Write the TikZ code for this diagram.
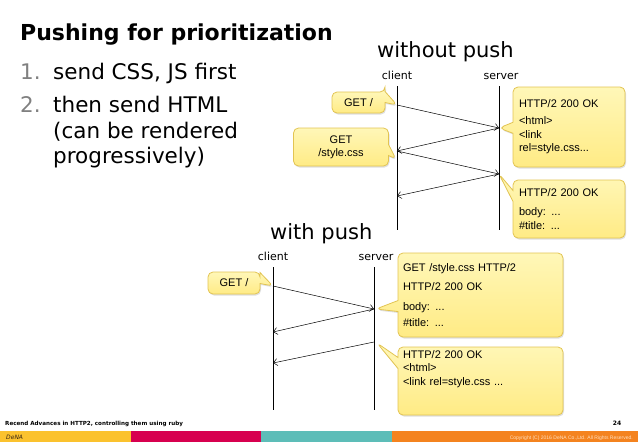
\documentclass[tikz,border=0pt]{standalone}
\usepackage{fontspec}
\setmainfont{DejaVu Sans}
\newfontfamily\arial{Liberation Sans}
\usetikzlibrary{arrows.meta,shapes.callouts,shadows}
\definecolor{notetop}{HTML}{FFF7B8}
\definecolor{notebot}{HTML}{FFEB85}
\definecolor{noteline}{HTML}{E2C452}
\definecolor{numgrey}{HTML}{808080}
\definecolor{barA}{HTML}{FBC22E}
\definecolor{barB}{HTML}{D7004F}
\definecolor{barC}{HTML}{5DBDB8}
\definecolor{barD}{HTML}{F4831F}
\tikzset{
  note/.style={rectangle callout, draw=noteline, top color=notetop, bottom color=notebot,
    rounded corners=5pt, line width=0.8pt, callout pointer width=11pt, inner sep=0pt,
    drop shadow={opacity=0.25,shadow xshift=1pt,shadow yshift=-1.5pt},
    font=\arial\fontsize{11}{13}\selectfont},
  msg/.style={-{Straight Barb[length=4pt,width=7pt]}, line width=0.5pt},
  life/.style={line width=0.9pt},
  txt/.style={inner sep=0pt, anchor=base west}
}
\begin{document}
\begin{tikzpicture}[x=1pt,y=-1pt]
  \useasboundingbox (0,0) rectangle (638,442);
  % heading and list
  \node[txt,font=\bfseries\fontsize{22}{26}\selectfont] (title) at (20,40) {Pushing for prioritization};
  \node[txt,font=\fontsize{21.5}{26}\selectfont,text=numgrey] (num1) at (20,79) {1.};
  \node[txt,font=\fontsize{21.5}{26}\selectfont] (item1) at (53,79) {send CSS, JS first};
  \node[txt,font=\fontsize{21.5}{26}\selectfont,text=numgrey] (num2) at (20,112) {2.};
  \node[txt,font=\fontsize{21.5}{26}\selectfont] (item2) at (53,112) {then send HTML};
  \node[txt,font=\fontsize{21.5}{26}\selectfont] (item2b) at (53,138) {(can be rendered};
  \node[txt,font=\fontsize{21.5}{26}\selectfont] (item2c) at (53,163) {progressively)};
  % without push
  \node[txt,font=\fontsize{21}{24}\selectfont] (nopush) at (377,57) {without push};
  \node[inner sep=0pt,anchor=base,font=\fontsize{11}{13}\selectfont] (clientA) at (397,79) {client};
  \node[inner sep=0pt,anchor=base,font=\fontsize{11}{13}\selectfont] (serverA) at (501,79) {server};
  \coordinate (ct) at (397,86);  \coordinate (cb) at (397,230);
  \coordinate (st) at (499,86);  \coordinate (sb) at (499,230);
  \draw[life] (ct) -- (cb);
  \draw[life] (st) -- (sb);
  \coordinate (c1) at (397,105); \coordinate (s1) at (499,128);
  \coordinate (c2) at (397,151); \coordinate (s2) at (499,174);
  \coordinate (c3) at (397,196);
  \draw[msg] (c1) -- (s1);
  \draw[msg] (s1) -- (c2);
  \draw[msg] (c2) -- (s2);
  \draw[msg] (s2) -- (c3);
  \node[note,minimum width=53pt,minimum height=21pt,callout absolute pointer={(c1)}] (getA) at (358.5,102.5) {GET /};
  \node[note,minimum width=95pt,minimum height=38pt,align=center,callout absolute pointer={(396,159)}] (cssA) at (341,147) {GET\\/style.css};
  \node[note,minimum width=112pt,minimum height=80pt,text width=100pt,align=left,callout absolute pointer={(s1)}] (htmlA) at (569,127)
    {HTTP/2 200 OK\\[4pt]<html>\\[1pt]<link\\rel=style.css...};
  \node[note,minimum width=112pt,minimum height=58pt,text width=100pt,align=left,callout absolute pointer={(s2)}] (bodyA) at (569,209)
    {HTTP/2 200 OK\\[6pt]body: ...\\[1pt]\#title: ...};
  % with push
  \node[txt,font=\fontsize{21}{24}\selectfont] (push) at (270,239) {with push};
  \node[inner sep=0pt,anchor=base,font=\fontsize{11}{13}\selectfont] (clientB) at (273,260) {client};
  \node[inner sep=0pt,anchor=base,font=\fontsize{11}{13}\selectfont] (serverB) at (376,260) {server};
  \coordinate (dt) at (273,267); \coordinate (db) at (273,410);
  \coordinate (tt) at (374,267); \coordinate (tb) at (374,410);
  \draw[life] (dt) -- (db);
  \draw[life] (tt) -- (tb);
  \coordinate (d1) at (273,286); \coordinate (t1) at (374,309);
  \coordinate (d2) at (273,332); \coordinate (t2) at (374,342);
  \coordinate (d3) at (273,363);
  \draw[msg] (d1) -- (t1);
  \draw[msg] (t1) -- (d2);
  \draw[msg] (t2) -- (d3);
  \node[note,minimum width=52pt,minimum height=22pt,callout absolute pointer={(d1)}] (getB) at (234,283) {GET /};
  \node[note,minimum width=165pt,minimum height=84pt,text width=155pt,align=left,callout absolute pointer={(376,309)}] (bodyB) at (480.5,295)
    {GET /style.css HTTP/2\\[6pt]HTTP/2 200 OK\\[7pt]body: ...\\[3pt]\#title: ...};
  \node[note,minimum width=165pt,minimum height=68pt,text width=155pt,align=left,callout absolute pointer={(377,343)}] (htmlB) at (480.5,381)
    {HTTP/2 200 OK\\<html>\\[1pt]<link rel=style.css ...\\[12pt]~};
  % footer
  \node[txt,font=\bfseries\fontsize{5.6}{7}\selectfont] (foot) at (5,425) {Recend Advances in HTTP2, controlling them using ruby};
  \node[inner sep=0pt,anchor=base,font=\bfseries\fontsize{6}{7}\selectfont] (page) at (617,425) {24};
  \foreach \c [count=\i from 0] in {barA,barB,barC}
    \fill[\c] (130.7*\i,431) rectangle ++(130.7,11);
  \fill[barD] (392,431) rectangle (638,442);
  \node[txt,font=\itshape\fontsize{6}{7}\selectfont,text=black!70!brown] (logo) at (6,439.5) {DeNA};
  \node[inner sep=0pt,anchor=base east,font=\arial\fontsize{5}{6}\selectfont,text=orange!25] (copy) at (633,439) {Copyright (C) 2016 DeNA Co.,Ltd. All Rights Reserved.};
\end{tikzpicture}
\end{document}
